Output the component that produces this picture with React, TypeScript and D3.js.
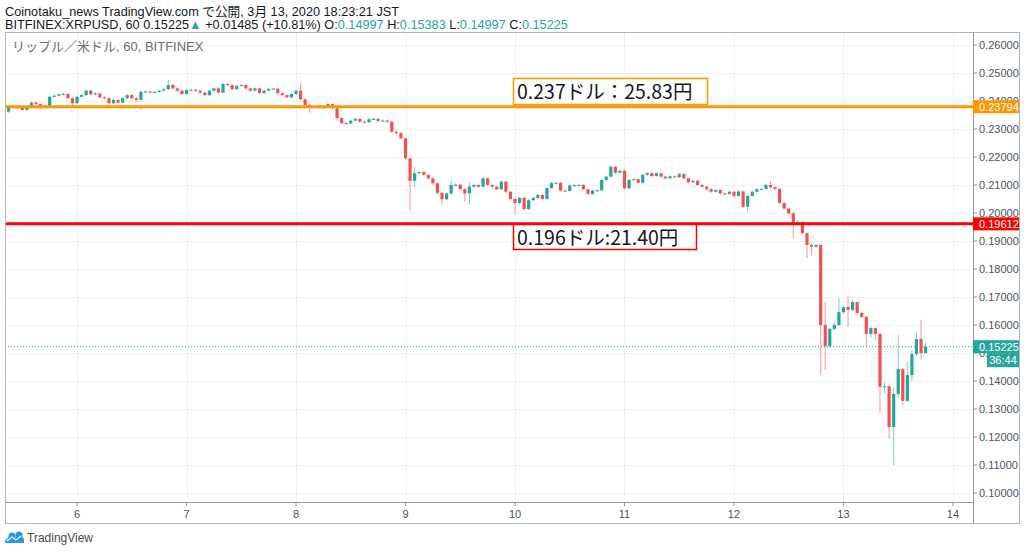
import React from 'react';
import * as d3 from 'd3';

// ---- data (XRP/USD, 1h candles, Bitfinex) ----
const firstOpen = 0.2362;
const closes = [
  0.2379, 0.2377, 0.2378, 0.2368, 0.2375, 0.2394, 0.2389, 0.2375, 0.2379, 0.2415,
  0.2419, 0.2424, 0.2425, 0.2410, 0.2392, 0.2415, 0.2421, 0.2437, 0.2424, 0.2427,
  0.2413, 0.2410, 0.2392, 0.2404, 0.2394, 0.2410, 0.2421, 0.2410, 0.2404, 0.2433,
  0.2434, 0.2431, 0.2432, 0.2437, 0.2442, 0.2457, 0.2445, 0.2437, 0.2425, 0.2439,
  0.2440, 0.2437, 0.2430, 0.2421, 0.2437, 0.2445, 0.2430, 0.2461, 0.2457, 0.2442,
  0.2454, 0.2457, 0.2445, 0.2437, 0.2445, 0.2428, 0.2437, 0.2443, 0.2444, 0.2428,
  0.2421, 0.2413, 0.2425, 0.2437, 0.2406, 0.2386, 0.2379, 0.2380, 0.2375, 0.2378,
  0.2389, 0.2374, 0.2339, 0.2321, 0.2320, 0.2330, 0.2336, 0.2326, 0.2324, 0.2335,
  0.2336, 0.2329, 0.2330, 0.2326, 0.2290, 0.2285, 0.2267, 0.2195, 0.2115, 0.2142,
  0.2146, 0.2136, 0.2124, 0.2106, 0.2072, 0.2049, 0.2070, 0.2100, 0.2101, 0.2085,
  0.2070, 0.2094, 0.2100, 0.2094, 0.2124, 0.2100, 0.2094, 0.2085, 0.2112, 0.2076,
  0.2050, 0.2036, 0.2054, 0.2014, 0.2046, 0.2054, 0.2064, 0.2050, 0.2089, 0.2107,
  0.2108, 0.2080, 0.2079, 0.2098, 0.2099, 0.2100, 0.2085, 0.2068, 0.2080, 0.2081,
  0.2118, 0.2130, 0.2165, 0.2144, 0.2151, 0.2088, 0.2118, 0.2121, 0.2108, 0.2136,
  0.2142, 0.2132, 0.2142, 0.2130, 0.2124, 0.2131, 0.2128, 0.2139, 0.2124, 0.2110,
  0.2115, 0.2100, 0.2094, 0.2085, 0.2076, 0.2082, 0.2070, 0.2068, 0.2076, 0.2061,
  0.2077, 0.2022, 0.2061, 0.2076, 0.2085, 0.2086, 0.2100, 0.2092, 0.2086, 0.2036,
  0.2016, 0.1999, 0.1964, 0.1968, 0.1928, 0.1886, 0.1880, 0.1886, 0.1600, 0.1525,
  0.1586, 0.1600, 0.1646, 0.1664, 0.1654, 0.1682, 0.1643, 0.1629, 0.1568, 0.1589,
  0.1568, 0.1379, 0.1381, 0.1236, 0.1354, 0.1443, 0.1329, 0.1421, 0.1496, 0.1550,
  0.14997, 0.15225,
];
const highs = [
  0.2384, 0.2383, 0.2382, 0.2380, 0.2378, 0.2399, 0.2398, 0.2391, 0.2383, 0.2419,
  0.2423, 0.2427, 0.2431, 0.2428, 0.2413, 0.2419, 0.2426, 0.2441, 0.2440, 0.2431,
  0.2430, 0.2417, 0.2413, 0.2408, 0.2407, 0.2414, 0.2425, 0.2424, 0.2413, 0.2437,
  0.2438, 0.2437, 0.2436, 0.2441, 0.2446, 0.2475, 0.2460, 0.2449, 0.2440, 0.2443,
  0.2445, 0.2444, 0.2441, 0.2433, 0.2441, 0.2449, 0.2448, 0.2466, 0.2465, 0.2460,
  0.2458, 0.2461, 0.2460, 0.2448, 0.2449, 0.2448, 0.2441, 0.2447, 0.2448, 0.2446,
  0.2431, 0.2424, 0.2429, 0.2441, 0.2464, 0.2409, 0.2389, 0.2384, 0.2383, 0.2382,
  0.2393, 0.2392, 0.2377, 0.2342, 0.2325, 0.2334, 0.2340, 0.2339, 0.2330, 0.2339,
  0.2340, 0.2339, 0.2334, 0.2333, 0.2329, 0.2294, 0.2288, 0.2270, 0.2198, 0.2164,
  0.2150, 0.2150, 0.2139, 0.2127, 0.2109, 0.2075, 0.2074, 0.2116, 0.2106, 0.2104,
  0.2088, 0.2110, 0.2104, 0.2104, 0.2128, 0.2127, 0.2103, 0.2097, 0.2116, 0.2115,
  0.2079, 0.2053, 0.2058, 0.2057, 0.2050, 0.2058, 0.2068, 0.2067, 0.2093, 0.2112,
  0.2112, 0.2111, 0.2084, 0.2102, 0.2103, 0.2104, 0.2103, 0.2088, 0.2084, 0.2085,
  0.2122, 0.2134, 0.2170, 0.2168, 0.2155, 0.2154, 0.2122, 0.2125, 0.2124, 0.2140,
  0.2146, 0.2145, 0.2146, 0.2145, 0.2133, 0.2135, 0.2134, 0.2143, 0.2142, 0.2127,
  0.2119, 0.2118, 0.2103, 0.2097, 0.2088, 0.2086, 0.2085, 0.2074, 0.2080, 0.2079,
  0.2081, 0.2080, 0.2065, 0.2080, 0.2089, 0.2090, 0.2104, 0.2112, 0.2095, 0.2089,
  0.2039, 0.2019, 0.2002, 0.1975, 0.1971, 0.1931, 0.1890, 0.1890, 0.1889, 0.1682,
  0.1590, 0.1612, 0.1696, 0.1668, 0.1704, 0.1690, 0.1686, 0.1646, 0.1632, 0.1596,
  0.1592, 0.1571, 0.1395, 0.1384, 0.1376, 0.1564, 0.1446, 0.1470, 0.1510, 0.1571,
  0.1618, 0.15383,
];
const lows = [
  0.2358, 0.2373, 0.2372, 0.2364, 0.2365, 0.2372, 0.2386, 0.2371, 0.2372, 0.2376,
  0.2412, 0.2416, 0.2420, 0.2406, 0.2385, 0.2389, 0.2412, 0.2418, 0.2421, 0.2420,
  0.2409, 0.2405, 0.2387, 0.2389, 0.2390, 0.2391, 0.2407, 0.2406, 0.2399, 0.2401,
  0.2429, 0.2427, 0.2428, 0.2429, 0.2434, 0.2439, 0.2441, 0.2433, 0.2421, 0.2422,
  0.2435, 0.2433, 0.2426, 0.2416, 0.2418, 0.2434, 0.2426, 0.2427, 0.2453, 0.2438,
  0.2439, 0.2451, 0.2441, 0.2433, 0.2434, 0.2424, 0.2425, 0.2434, 0.2440, 0.2424,
  0.2417, 0.2409, 0.2410, 0.2422, 0.2402, 0.2380, 0.2358, 0.2374, 0.2371, 0.2372,
  0.2375, 0.2370, 0.2333, 0.2316, 0.2316, 0.2316, 0.2327, 0.2322, 0.2320, 0.2321,
  0.2332, 0.2325, 0.2326, 0.2322, 0.2285, 0.2280, 0.2262, 0.2190, 0.2007, 0.2093,
  0.2138, 0.2132, 0.2119, 0.2101, 0.2066, 0.2029, 0.2045, 0.2066, 0.2095, 0.2080,
  0.2040, 0.2029, 0.2090, 0.2090, 0.2091, 0.2096, 0.2090, 0.2080, 0.2082, 0.2071,
  0.2045, 0.1993, 0.2030, 0.2008, 0.2010, 0.2042, 0.2050, 0.2046, 0.2047, 0.2085,
  0.2103, 0.2076, 0.2075, 0.2076, 0.2094, 0.2095, 0.2081, 0.2064, 0.2065, 0.2077,
  0.2078, 0.2115, 0.2127, 0.2140, 0.2141, 0.2083, 0.2085, 0.2115, 0.2104, 0.2105,
  0.2133, 0.2128, 0.2129, 0.2126, 0.2120, 0.2121, 0.2124, 0.2125, 0.2120, 0.2106,
  0.2107, 0.2096, 0.2090, 0.2081, 0.2072, 0.2073, 0.2066, 0.2064, 0.2065, 0.2057,
  0.2058, 0.2017, 0.2004, 0.2058, 0.2073, 0.2081, 0.2083, 0.2088, 0.2082, 0.2031,
  0.2011, 0.1994, 0.1911, 0.1958, 0.1922, 0.1839, 0.1850, 0.1876, 0.1421, 0.1439,
  0.1518, 0.1582, 0.1596, 0.1640, 0.1593, 0.1650, 0.1638, 0.1624, 0.1521, 0.1555,
  0.1548, 0.1286, 0.1355, 0.1196, 0.1100, 0.1340, 0.1314, 0.1325, 0.1400, 0.1490,
  0.1477, 0.14997,
];
const priceTicks = [0.10, 0.11, 0.12, 0.13, 0.14, 0.15, 0.16, 0.17, 0.18, 0.19, 0.20, 0.21, 0.22, 0.23, 0.24, 0.25, 0.26];
const dayLabels = ['6', '7', '8', '9', '10', '11', '12', '13', '14'];
const orangeLevel = 0.23794;
const redLevel = 0.19612;
const lastPrice = 0.15225;
const orangeNote = '0.237ドル：25.83円';
const redNote = '0.196ドル:21.40円';
const titleLine1 = 'Coinotaku_news TradingView.com で公開, 3月 13, 2020 18:23:21 JST';
const paneTitle = 'リップル／米ドル, 60, BITFINEX';
const countdown = '36:44';

const UP = '#26a69a';
const DOWN = '#ef5350';
const FONT = "'Liberation Sans', Arial, 'Noto Sans CJK JP', sans-serif";
const NOTE_FONT = "'Noto Sans CJK JP', 'Noto Sans', sans-serif";

export default function App() {
  const HOUR = 3600 * 1000;
  const t0 = Date.UTC(2020, 2, 5, 9);
  const tEnd = t0 + (closes.length - 1) * HOUR;
  const x = d3.scaleUtc().domain([new Date(t0), new Date(tEnd)]).range([8.6, 925.6]);
  const y = d3.scaleLinear().domain([0.10, 0.26]).range([493, 45]);

  const L = 5, R = 973, T = 32, B = 502, FR = 1019, FB = 523;
  const days = dayLabels.map((lab, k) => ({ lab, d: new Date(Date.UTC(2020, 2, 6 + k)) }));
  const opens = closes.map((c, i) => (i === 0 ? firstOpen : closes[i - 1]));
  const fmt = d3.format('.5f');
  const bw = 3.2;

  const candles = closes.map((c, i) => {
    const o = opens[i];
    const cx = x(new Date(t0 + i * HOUR));
    const up = c >= o;
    const col = up ? UP : DOWN;
    const yTop = y(Math.max(o, c));
    const yBot = y(Math.min(o, c));
    return (
      <g key={i}>
        <line x1={cx} x2={cx} y1={y(highs[i])} y2={y(lows[i])} stroke={col} strokeOpacity={0.6} strokeWidth={1} />
        <rect x={cx - bw / 2} y={yTop} width={bw} height={Math.max(1, yBot - yTop)} fill={col} />
      </g>
    );
  });

  const oy = y(orangeLevel), ry = y(redLevel), ly = y(lastPrice);

  return (
    <svg width={1024} height={552} style={{ position: 'absolute', left: 0, top: 0, background: '#fff' }} fontFamily={FONT}>
      <rect x={0} y={0} width={1024} height={552} fill="#fff" />
      {/* header */}
      <text x={5} y={16} fontSize={12.7} fill="#131722">{titleLine1}</text>
      <text x={5} y={29} fontSize={12.7} fill="#131722">
        <tspan>BITFINEX:XRPUSD, 60 0.15225</tspan>
        <tspan fill={UP}>▲</tspan>
        <tspan> +0.01485 (+10.81%) O:</tspan>
        <tspan fill={UP}>0.14997</tspan>
        <tspan> H:</tspan>
        <tspan fill={UP}>0.15383</tspan>
        <tspan> L:</tspan>
        <tspan fill={UP}>0.14997</tspan>
        <tspan> C:</tspan>
        <tspan fill={UP}>0.15225</tspan>
      </text>

      {/* grid */}
      <g stroke="#eef1f6" strokeWidth={1}>
        {priceTicks.map((p) => (
          <line key={p} x1={L} x2={R} y1={Math.round(y(p)) + 0.5} y2={Math.round(y(p)) + 0.5} />
        ))}
        {days.map(({ d, lab }) => (
          <line key={lab} x1={Math.round(x(d)) + 0.5} x2={Math.round(x(d)) + 0.5} y1={T} y2={B} />
        ))}
      </g>

      <text x={12} y={51} fontSize={13} fill="#6a6d78">{paneTitle}</text>

      {/* candles */}
      <g>{candles}</g>

      {/* last price dotted line */}
      <line x1={L} x2={R} y1={ly} y2={ly} stroke={UP} strokeWidth={1} strokeDasharray="1 2" />

      {/* horizontal levels */}
      <line x1={L} x2={R} y1={oy} y2={oy} stroke="#ff9800" strokeWidth={3} />
      <line x1={L} x2={R} y1={ry} y2={ry} stroke="#ff0000" strokeWidth={3} />

      {/* annotations */}
      <rect x={513.5} y={78.5} width={194} height={26} fill="#fff" stroke="#ff9800" strokeWidth={1.5} />
      <text x={517} y={99} fontSize={19.5} fill="#131722" fontFamily={NOTE_FONT}>{orangeNote}</text>
      <rect x={513.5} y={224.5} width={183} height={25} fill="#fff" stroke="#ff0000" strokeWidth={1.5} />
      <text x={517} y={244.5} fontSize={19.5} fill="#131722" fontFamily={NOTE_FONT}>{redNote}</text>

      {/* frame and axes */}
      <rect x={L + 0.5} y={T + 0.5} width={FR - L} height={FB - T} fill="none" stroke="#b2b5be" strokeWidth={1} />
      <line x1={L} x2={R} y1={B + 0.5} y2={B + 0.5} stroke="#9598a1" />
      <line x1={R + 0.5} x2={R + 0.5} y1={T} y2={FB} stroke="#9598a1" />

      {/* price axis */}
      <g fontSize={11} fill="#4c525e">
        {priceTicks.map((p) => (
          <g key={p}>
            <line x1={R} x2={R + 4} y1={y(p)} y2={y(p)} stroke="#9598a1" />
            <text x={979} y={y(p) + 4}>{fmt(p)}</text>
          </g>
        ))}
      </g>
      {/* time axis */}
      <g fontSize={11} fill="#4c525e">
        {days.map(({ d, lab }) => (
          <g key={lab}>
            <line x1={x(d)} x2={x(d)} y1={B} y2={B + 4} stroke="#9598a1" />
            <text x={x(d)} y={518} textAnchor="middle">{lab}</text>
          </g>
        ))}
      </g>

      {/* price labels on axis */}
      <rect x={R} y={oy - 6.5} width={FR - R} height={13} fill="#ff9800" />
      <text x={979} y={oy + 4} fontSize={11} fill="#fff">{fmt(orangeLevel)}</text>
      <rect x={R} y={ry - 6.5} width={FR - R} height={13} fill="#ff0000" />
      <text x={979} y={ry + 4} fontSize={11} fill="#fff">{fmt(redLevel)}</text>
      <rect x={R} y={ly - 6.5} width={FR - R} height={13} fill={UP} />
      <text x={979} y={ly + 4} fontSize={11} fill="#fff">{fmt(lastPrice)}</text>
      <rect x={987} y={ly + 6.5} width={FR - 987} height={14} fill={UP} />
      <text x={1003} y={ly + 17.5} fontSize={11} fill="#fff" textAnchor="middle">{countdown}</text>

      {/* logo */}
      <g transform="translate(5,531)">
        <path d="M0,10 L6,3 L10,7 L14,2 L19,8 L19,12 L0,12 Z" fill="#2196f3" />
        <circle cx={14} cy={4} r={3.5} fill="#2196f3" />
        <circle cx={7} cy={5} r={3.5} fill="#2196f3" />
        <path d="M2,10 L7,6 L11,9 L16,5" stroke="#fff" strokeWidth={1.2} fill="none" />
      </g>
      <text x={27} y={542} fontSize={12} fill="#4a4a4a">TradingView</text>
    </svg>
  );
}
